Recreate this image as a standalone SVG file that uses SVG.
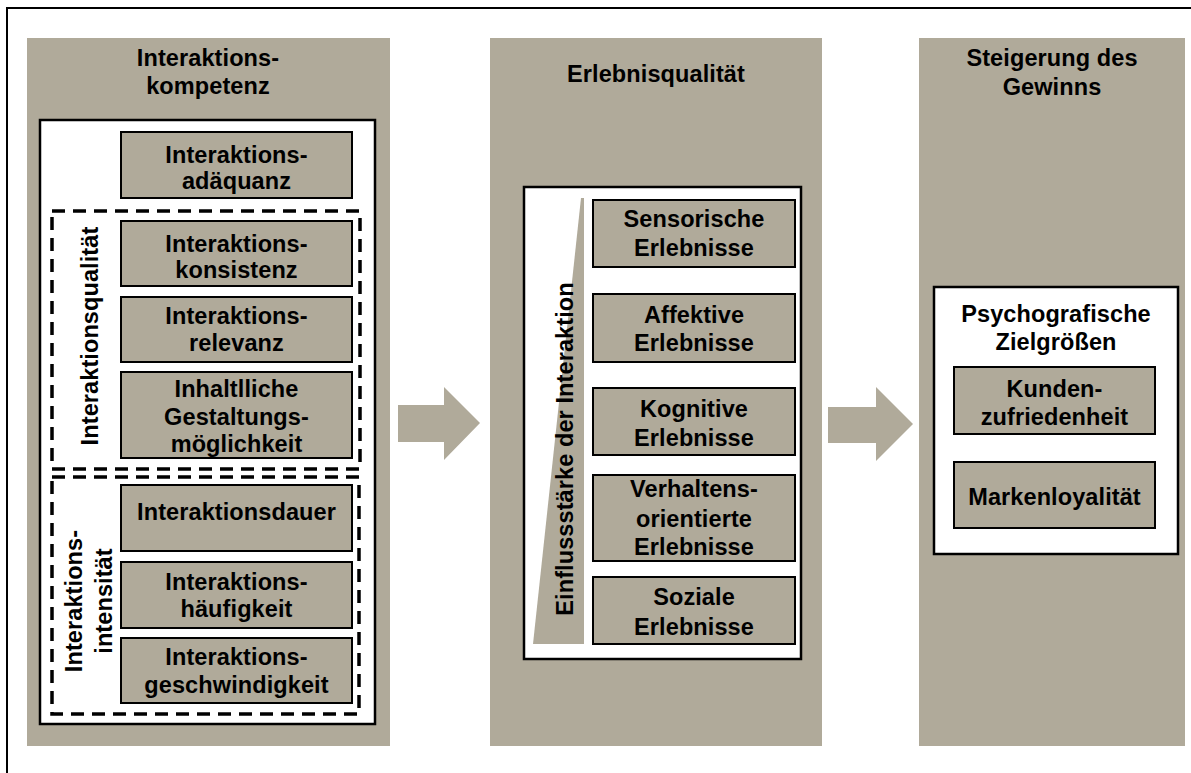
<svg xmlns="http://www.w3.org/2000/svg" width="1191" height="773" viewBox="0 0 1191 773">
  <style>
    .col { fill: #B0AA9A; }
    .panel { fill: #FFFFFF; stroke: #000; stroke-width: 2.5; }
    .box { fill: #B0AA9A; stroke: #000; stroke-width: 2; }
    .dash { fill: none; stroke: #000; stroke-width: 3.5; stroke-dasharray: 13 8; }
    .arrow { fill: #B0AA9A; }
    .t { font-family: "Liberation Sans", Arial, sans-serif; font-weight: bold; font-size: 23.5px; text-anchor: middle; fill: #000; letter-spacing: 0.1px; }
  </style>

  <rect width="1191" height="773" fill="#FFFFFF"/>
  <!-- outer frame -->
  <path d="M7,773 V8 H1191" fill="none" stroke="#000" stroke-width="2"/>

  <!-- column 1: Interaktionskompetenz -->
  <g id="col-kompetenz">
    <rect class="col" x="27" y="38" width="363" height="708"/>
    <text class="t" x="208" y="66">Interaktions-</text>
    <text class="t" x="208" y="94">kompetenz</text>
    <rect class="panel" x="40" y="120" width="335" height="604"/>
  </g>

  <g id="adaequanz">
    <rect class="box" x="121" y="132" width="231" height="66"/>
    <text class="t" x="236.5" y="163">Interaktions-</text>
    <text class="t" x="236.5" y="189">adäquanz</text>
  </g>

  <g id="grp-qualitaet">
    <rect class="dash" x="52" y="211" width="308" height="258"/>
    <text class="t" transform="translate(98,336) rotate(-90)">Interaktionsqualität</text>
  </g>

  <g id="konsistenz">
    <rect class="box" x="121" y="221" width="231" height="65"/>
    <text class="t" x="236.5" y="252">Interaktions-</text>
    <text class="t" x="236.5" y="278">konsistenz</text>
  </g>

  <g id="relevanz">
    <rect class="box" x="121" y="297" width="231" height="65"/>
    <text class="t" x="236.5" y="324">Interaktions-</text>
    <text class="t" x="236.5" y="351">relevanz</text>
  </g>

  <g id="gestaltung">
    <rect class="box" x="121" y="372" width="231" height="86"/>
    <text class="t" x="236.5" y="397">Inhaltlliche</text>
    <text class="t" x="236.5" y="425">Gestaltungs-</text>
    <text class="t" x="236.5" y="452">möglichkeit</text>
  </g>

  <g id="grp-intensitaet">
    <rect class="dash" x="52" y="477" width="307" height="237"/>
    <text class="t" transform="translate(82,601) rotate(-90)">Interaktions-</text>
    <text class="t" transform="translate(112,601) rotate(-90)">intensität</text>
  </g>

  <g id="dauer">
    <rect class="box" x="121" y="485" width="231" height="66"/>
    <text class="t" x="236.5" y="520">Interaktionsdauer</text>
  </g>

  <g id="haeufigkeit">
    <rect class="box" x="121" y="562" width="231" height="66"/>
    <text class="t" x="236.5" y="590">Interaktions-</text>
    <text class="t" x="236.5" y="617">häufigkeit</text>
  </g>

  <g id="geschwindigkeit">
    <rect class="box" x="121" y="638" width="231" height="65"/>
    <text class="t" x="236.5" y="665">Interaktions-</text>
    <text class="t" x="236.5" y="693">geschwindigkeit</text>
  </g>

  <!-- column 2: Erlebnisqualität -->
  <g id="col-erlebnis">
    <rect class="col" x="490" y="38" width="332" height="708"/>
    <text class="t" x="656" y="82">Erlebnisqualität</text>
    <rect class="panel" x="524" y="187" width="277" height="472"/>
    <polygon class="col" points="581,198 584,198 584,644 533,644"/>
    <text class="t" transform="translate(573,449) rotate(-90)">Einflussstärke der Interaktion</text>
  </g>

  <g id="sensorisch">
    <rect class="box" x="593" y="200" width="202" height="67"/>
    <text class="t" x="694" y="227">Sensorische</text>
    <text class="t" x="694" y="256">Erlebnisse</text>
  </g>

  <g id="affektiv">
    <rect class="box" x="593" y="294" width="202" height="68"/>
    <text class="t" x="694" y="323">Affektive</text>
    <text class="t" x="694" y="351">Erlebnisse</text>
  </g>

  <g id="kognitiv">
    <rect class="box" x="593" y="388" width="202" height="67"/>
    <text class="t" x="694" y="417">Kognitive</text>
    <text class="t" x="694" y="446">Erlebnisse</text>
  </g>

  <g id="verhalten">
    <rect class="box" x="593" y="475" width="202" height="86"/>
    <text class="t" x="694" y="497">Verhaltens-</text>
    <text class="t" x="694" y="527">orientierte</text>
    <text class="t" x="694" y="555">Erlebnisse</text>
  </g>

  <g id="sozial">
    <rect class="box" x="593" y="577" width="202" height="67"/>
    <text class="t" x="694" y="605">Soziale</text>
    <text class="t" x="694" y="635">Erlebnisse</text>
  </g>

  <!-- column 3: Steigerung des Gewinns -->
  <g id="col-gewinn">
    <rect class="col" x="919" y="38" width="266" height="708"/>
    <text class="t" x="1052" y="66">Steigerung des</text>
    <text class="t" x="1052" y="95">Gewinns</text>
    <rect class="panel" x="934" y="287" width="244" height="267"/>
    <text class="t" x="1056" y="322">Psychografische</text>
    <text class="t" x="1056" y="350">Zielgrößen</text>
  </g>

  <g id="zufriedenheit">
    <rect class="box" x="954" y="367" width="201" height="67"/>
    <text class="t" x="1054.5" y="397">Kunden-</text>
    <text class="t" x="1054.5" y="425">zufriedenheit</text>
  </g>

  <g id="loyalitaet">
    <rect class="box" x="954" y="462" width="201" height="66"/>
    <text class="t" x="1054.5" y="505">Markenloyalität</text>
  </g>

  <!-- block arrows between the columns -->
  <g id="connectors">
    <polygon class="arrow" points="398,405 444,405 444,387 480,423 444,460 444,442 398,442"/>
    <polygon class="arrow" points="828,407 876,407 876,387 913,424 876,461 876,443 828,443"/>
  </g>
</svg>
